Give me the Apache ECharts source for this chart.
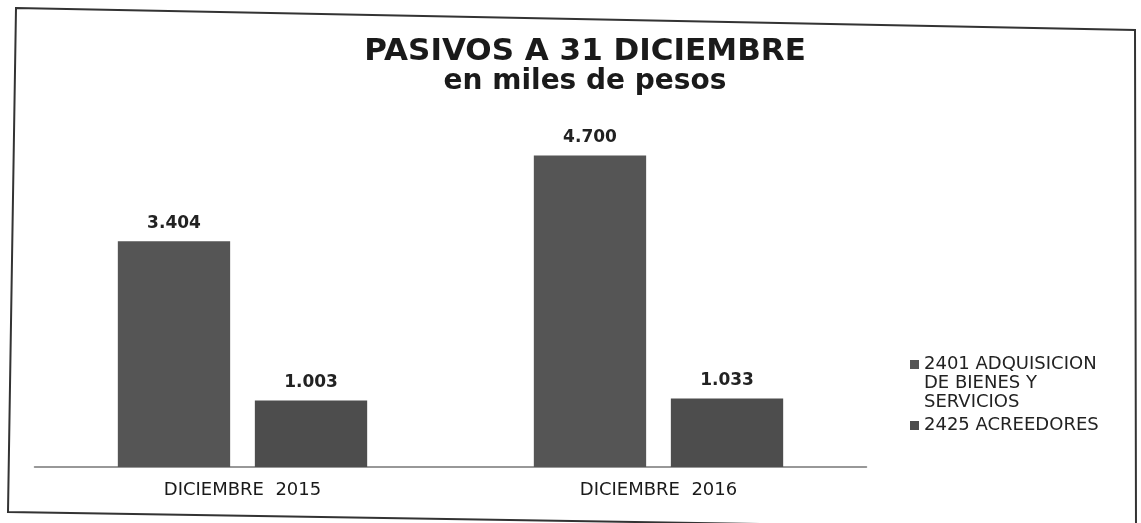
<!DOCTYPE html>
<html>
<head>
<meta charset="utf-8">
<script src="https://cdn.jsdelivr.net/npm/echarts@6/dist/echarts.min.js"></script>
<style>
html,body{margin:0;padding:0;background:#fff;}
#chart{width:1141px;height:523px;}
</style>
</head>
<body>
<div id="chart"></div>
<script>
const categories = ['DICIEMBRE  2015', 'DICIEMBRE  2016'];
const seriesNames = ['2401 ADQUISICION DE BIENES Y SERVICIOS', '2425 ACREEDORES'];
const legendLabels = ['2401 ADQUISICION\nDE BIENES Y\nSERVICIOS', '2425 ACREEDORES'];
const adquisicion = [3404, 4700];
const acreedores = [1003, 1033];

const chart = echarts.init(document.getElementById('chart'));
const fmt = p => p.value.toLocaleString('es-CO').replace(/,/g, '.');
const fontFam = '"DejaVu Sans", "Open Sans", sans-serif';

chart.setOption({
  animation: false,
  backgroundColor: '#ffffff',
  title: {
    text: 'PASIVOS A 31 DICIEMBRE',
    subtext: 'en miles de pesos',
    left: 580,
    textAlign: 'center',
    top: 31,
    itemGap: 1,
    textStyle: { fontFamily: fontFam, fontSize: 31, fontWeight: 'bold', color: '#1a1a1a' },
    subtextStyle: { fontFamily: fontFam, fontSize: 28, fontWeight: 'bold', color: '#1a1a1a' }
  },
  legend: {
    orient: 'vertical',
    left: 905,
    top: 312,
    itemWidth: 9,
    itemHeight: 9,
    itemGap: 4,
    icon: 'rect',
    formatter: name => {
      const i = seriesNames.indexOf(name);
      return i === 0 ? '\n\n' + legendLabels[0] : legendLabels[i];
    },
    textStyle: { fontFamily: fontFam, fontSize: 18, color: '#222', lineHeight: 19 },
    data: seriesNames
  },
  grid: { left: 34.5, right: 274.5, top: 135.5, bottom: 56, containLabel: false },
  xAxis: {
    type: 'category',
    data: categories,
    axisLine: { lineStyle: { color: '#777', width: 1.5 } },
    axisTick: { show: false },
    axisLabel: { fontFamily: fontFam, fontSize: 18, color: '#1a1a1a', margin: 14 }
  },
  yAxis: {
    type: 'value', min: 0, max: 5000,
    show: false,
    splitLine: { show: false }
  },
  series: [
    {
      name: seriesNames[0], type: 'bar', data: adquisicion,
      barWidth: '27%', barGap: '22%',
      itemStyle: { color: '#555555' },
      label: { show: true, position: 'top', distance: 9, formatter: fmt,
        fontFamily: fontFam, fontSize: 17, fontWeight: 'bold', color: '#222' }
    },
    {
      name: seriesNames[1], type: 'bar', data: acreedores,
      barWidth: '27%',
      itemStyle: { color: '#4d4d4d' },
      label: { show: true, position: 'top', distance: 9, formatter: fmt,
        fontFamily: fontFam, fontSize: 17, fontWeight: 'bold', color: '#222' }
    }
  ],
  graphic: [
    {
      type: 'polygon', silent: true,
      shape: { points: [[16, 8], [1135, 30], [1136, 530], [8, 512]] },
      style: { fill: 'none', stroke: '#333', lineWidth: 2 }
    }
  ]
});
</script>
</body>
</html>
